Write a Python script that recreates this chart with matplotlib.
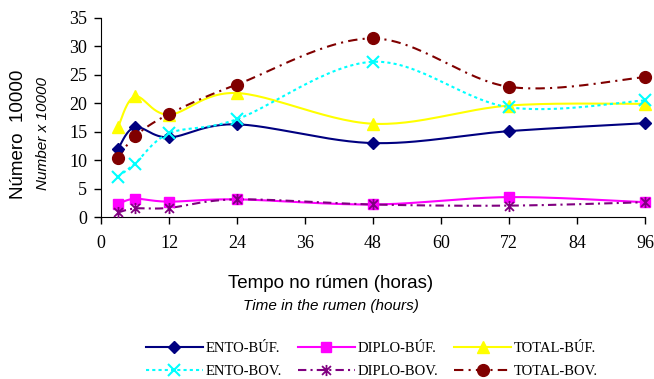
import numpy as np
import matplotlib
matplotlib.use("Agg")
import matplotlib.pyplot as plt
from matplotlib.path import Path

# horas de incubacao no rumen
hours = [3, 6, 12, 24, 48, 72, 96]

ento_buf = [12.0, 15.8, 14.0, 16.3, 13.0, 15.1, 16.5]
diplo_buf = [2.3, 3.2, 2.7, 3.1, 2.2, 3.5, 2.6]
total_buf = [15.8, 21.2, 18.0, 21.8, 16.4, 19.6, 19.9]
ento_bov = [7.1, 9.4, 14.7, 17.2, 27.3, 19.3, 20.5]
diplo_bov = [0.8, 1.5, 1.6, 3.1, 2.2, 2.0, 2.6]
total_bov = [10.3, 14.2, 18.1, 23.3, 31.4, 22.9, 24.6]

labels = ["ENTO-BÚF.", "DIPLO-BÚF.", "TOTAL-BÚF.",
          "ENTO-BOV.", "DIPLO-BOV.", "TOTAL-BOV."]

x_ticks = [0, 12, 24, 36, 48, 60, 72, 84, 96]
y_ticks = [0, 5, 10, 15, 20, 25, 30, 35]


def smooth(x, y, n=30):
    '''Excel-like smoothed line (bezier through the points)'''
    p = np.column_stack([x, y]).astype(float)
    pts = np.vstack([p[0], p, p[-1]])
    out = []
    t = np.linspace(0, 1, n)[:, None]
    for i in range(1, len(pts) - 2):
        p0, p3 = pts[i], pts[i + 1]
        c1 = p0 + (pts[i + 1] - pts[i - 1]) / 6
        c2 = p3 - (pts[i + 2] - pts[i]) / 6
        seg = ((1 - t) ** 3) * p0 + 3 * ((1 - t) ** 2) * t * c1 \
            + 3 * (1 - t) * t ** 2 * c2 + t ** 3 * p3
        out.append(seg)
    out = np.vstack(out)
    return out[:, 0], out[:, 1]


# asterisco estilo Excel
star = Path([(0, -1), (0, 1), (-0.8, -0.8), (0.8, 0.8), (-0.8, 0.8), (0.8, -0.8)],
            [Path.MOVETO, Path.LINETO, Path.MOVETO, Path.LINETO, Path.MOVETO, Path.LINETO])

series = [
    (ento_buf, dict(color="#000080", ls="-", marker="D", ms=6.5)),
    (diplo_buf, dict(color="#FF00FF", ls="-", marker="s", ms=7)),
    (total_buf, dict(color="#FFFF00", ls="-", marker="^", ms=8)),
    (ento_bov, dict(color="#00FFFF", ls=(0, (1.5, 1.5)), marker="x", ms=8, mew=1.5)),
    (diplo_bov, dict(color="#800080", ls=(0, (4, 2, 1, 2)), marker=star, ms=8, mew=1.3)),
    (total_bov, dict(color="#800000", ls=(0, (4.5, 2.5, 1, 2.5)), marker="o", ms=8.5)),
]

fig = plt.figure(figsize=(6.54, 3.79), dpi=100)
ax = fig.add_axes([101 / 654, 1 - 217 / 379, 544 / 654, 199 / 379])

handles = []
for (vals, st), lab in zip(series, labels):
    sx, sy = smooth(hours, vals)
    ax.plot(sx, sy, color=st["color"], ls=st["ls"], lw=1.5, clip_on=False)
    ax.plot(hours, vals, ls="none", marker=st["marker"], ms=st["ms"],
            color=st["color"], mec=st["color"], mew=st.get("mew", 1),
            clip_on=False, zorder=3)
    h, = ax.plot([], [], color=st["color"], ls=st["ls"], lw=1.5,
                 marker=st["marker"], ms=st["ms"], mew=st.get("mew", 1))
    handles.append(h)

ax.set_xlim(0, 96)
ax.set_ylim(0, 35)
ax.set_xticks(x_ticks)
ax.set_yticks(y_ticks)
for s in ["top", "right"]:
    ax.spines[s].set_visible(False)
ax.tick_params(axis="both", direction="out", length=5, width=1, labelsize=13)
ax.tick_params(axis="x", pad=8)
ax.tick_params(axis="y", pad=5)
for lbl in ax.get_xticklabels() + ax.get_yticklabels():
    lbl.set_fontfamily("Liberation Serif")

fig.text(19 / 654, 1 - 134 / 379, "Número  10000", rotation=90, ha="center",
         va="center", fontsize=13.5, family="Liberation Sans")
fig.text(43 / 654, 1 - 134 / 379, "Number x 10000", rotation=90, ha="center",
         va="center", fontsize=11, style="italic", family="Liberation Sans")
fig.text(331 / 654, 1 - 283 / 379, "Tempo no rúmen (horas)", ha="center",
         va="center", fontsize=13.5, family="Liberation Sans")
fig.text(331 / 654, 1 - 306 / 379, "Time in the rumen (hours)", ha="center",
         va="center", fontsize=11, style="italic", family="Liberation Sans")

# legenda preenchida por linhas (matplotlib preenche por colunas)
order = [0, 3, 1, 4, 2, 5]
fig.legend([handles[i] for i in order], [labels[i] for i in order],
           ncol=3, loc="center",
           bbox_to_anchor=(372 / 654, 1 - 360 / 379), frameon=False,
           prop={"family": "Liberation Serif", "size": 10.5},
           handlelength=3.9, handletextpad=0.2, columnspacing=1.1,
           labelspacing=0.7)

fig.savefig("out.png", dpi=100)
